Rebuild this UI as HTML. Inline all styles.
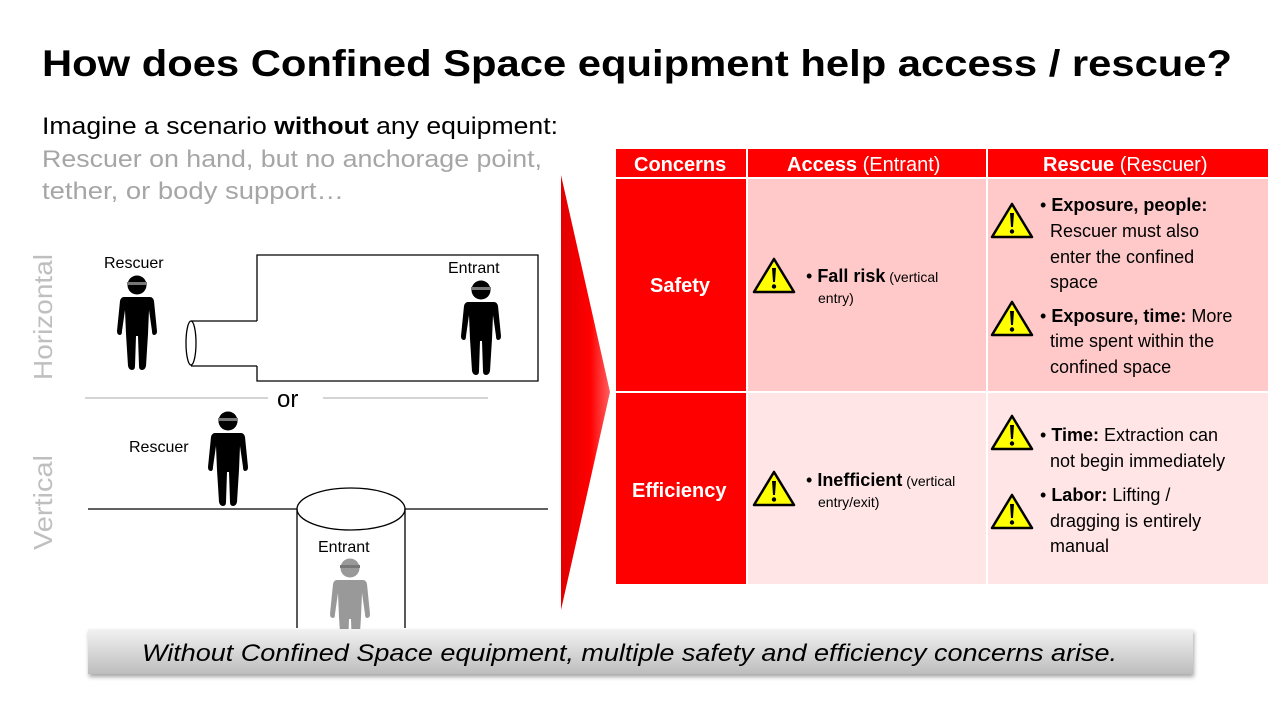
<!DOCTYPE html>
<html><head><meta charset="utf-8"><style>
html,body{margin:0;padding:0;background:#fff;width:1280px;height:720px;overflow:hidden}
svg{display:block;font-family:"Liberation Sans",sans-serif}
</style></head><body>
<svg width="1280" height="720" viewBox="0 0 1280 720" xmlns="http://www.w3.org/2000/svg">
<defs>
<linearGradient id="arr" x1="0" x2="1" y1="0" y2="0"><stop offset="0" stop-color="#e00000"/><stop offset="0.6" stop-color="#ff0000"/><stop offset="1" stop-color="#ff6060"/></linearGradient>
<linearGradient id="bar" x1="0" x2="0" y1="0" y2="1"><stop offset="0" stop-color="#f2f2f2"/><stop offset="1" stop-color="#bdbdbd"/></linearGradient>
<filter id="sh" x="-5%" y="-30%" width="110%" height="170%"><feDropShadow dx="1" dy="3" stdDeviation="2" flood-color="#000" flood-opacity="0.35"/></filter>
<g id="person">
<circle cx="20" cy="11" r="9.5"/>
<rect x="10" y="8" width="20" height="3" fill="#777"/>
<path d="M7 23 L33 23 Q36 23 37 27 L40 57 Q40 61 37 61 Q35 61 35 57 L32 36 L31 60 L29 92 Q28 96 25 96 Q22 96 22 92 L21 62 L19 62 L18 92 Q18 96 15 96 Q12 96 11 92 L9 60 L8 36 L5 57 Q5 61 3 61 Q0 61 0 57 L3 27 Q4 23 7 23 Z"/>
</g>
<g id="warn">
<path d="M21 2 L41 35 L1 35 Z" fill="#ffff00" stroke="#000" stroke-width="2.5" stroke-linejoin="round"/>
<path d="M19 11 L23 11 L22 25 L20 25 Z" fill="#000"/>
<circle cx="21" cy="29.5" r="2.2" fill="#000"/>
</g>
</defs>

<text x="42" y="76" font-size="37" font-weight="bold" textLength="1190" lengthAdjust="spacingAndGlyphs">How does Confined Space equipment help access / rescue?</text>
<text x="42" y="134" font-size="24" textLength="516" lengthAdjust="spacingAndGlyphs">Imagine a scenario <tspan font-weight="bold">without</tspan> any equipment:</text>
<text x="42" y="167" font-size="24" fill="#a6a6a6" textLength="500" lengthAdjust="spacingAndGlyphs">Rescuer on hand, but no anchorage point,</text>
<text x="42" y="199" font-size="24" fill="#a6a6a6" textLength="302" lengthAdjust="spacingAndGlyphs">tether, or body support…</text>

<text transform="translate(52,380) rotate(-90)" font-size="26" fill="#bfbfbf" textLength="126" lengthAdjust="spacingAndGlyphs">Horizontal</text>
<text transform="translate(52,550) rotate(-90)" font-size="26" fill="#bfbfbf" textLength="95" lengthAdjust="spacingAndGlyphs">Vertical</text>

<g fill="none" stroke="#000" stroke-width="1.3">
<path d="M257 321 L257 255 L538 255 L538 381 L257 381 L257 366"/>
<path d="M191 321 L257 321 M191 366 L257 366"/>
<ellipse cx="191" cy="343" rx="5" ry="22"/>
</g>
<text x="104" y="268" font-size="16">Rescuer</text>
<text x="448" y="273" font-size="16">Entrant</text>
<use href="#person" x="117" y="274"/>
<use href="#person" x="461" y="279"/>

<line x1="85" y1="398" x2="268" y2="398" stroke="#aaa" stroke-width="1"/>
<line x1="323" y1="398" x2="488" y2="398" stroke="#aaa" stroke-width="1"/>
<text x="277" y="407" font-size="24">or</text>

<g fill="none" stroke="#000" stroke-width="1.3">
<path d="M88 509 L297 509 M405 509 L548 509"/>
<ellipse cx="351" cy="509" rx="54" ry="21" fill="#fff"/>
<path d="M297 509 L297 628 M405 509 L405 628"/>
</g>
<text x="129" y="452" font-size="16">Rescuer</text>
<text x="318" y="552" font-size="16">Entrant</text>
<use href="#person" x="208" y="410"/>
<use href="#person" x="330" y="557" fill="#999"/>

<path d="M561 175 L610 392 L561 610 Z" fill="url(#arr)"/>

<rect x="616" y="149" width="652" height="28" fill="#ff0000"/>
<rect x="746" y="149" width="2" height="28" fill="#fff"/>
<rect x="986" y="149" width="2" height="28" fill="#fff"/>
<rect x="616" y="179" width="130" height="212" fill="#ff0000"/>
<rect x="616" y="393" width="130" height="191" fill="#ff0000"/>
<rect x="748" y="179" width="238" height="212" fill="#ffc9c9"/>
<rect x="988" y="179" width="280" height="212" fill="#ffc9c9"/>
<rect x="748" y="393" width="238" height="191" fill="#ffe5e5"/>
<rect x="988" y="393" width="280" height="191" fill="#ffe5e5"/>
<g fill="#fff" font-size="20">
<text x="634" y="171" font-weight="bold">Concerns</text>
<text x="787" y="171"><tspan font-weight="bold">Access</tspan> (Entrant)</text>
<text x="1043" y="171"><tspan font-weight="bold">Rescue</tspan> (Rescuer)</text>
<text x="650" y="292" font-weight="bold">Safety</text>
<text x="632" y="497" font-weight="bold">Efficiency</text>
</g>

<use href="#warn" x="753" y="257"/>
<use href="#warn" x="753" y="470"/>
<use href="#warn" x="991" y="202"/>
<use href="#warn" x="991" y="300"/>
<use href="#warn" x="991" y="414"/>
<use href="#warn" x="991" y="493"/>

<g font-size="18" fill="#000">
<text x="806" y="282">• <tspan font-weight="bold">Fall risk</tspan><tspan font-size="14"> (vertical</tspan></text>
<text x="818" y="303" font-size="14">entry)</text>
<text x="806" y="486">• <tspan font-weight="bold">Inefficient</tspan><tspan font-size="14"> (vertical</tspan></text>
<text x="818" y="507" font-size="14">entry/exit)</text>

<text x="1040" y="211">• <tspan font-weight="bold">Exposure, people:</tspan></text>
<text x="1050" y="237">Rescuer must also</text>
<text x="1050" y="263">enter the confined</text>
<text x="1050" y="288">space</text>
<text x="1040" y="322">• <tspan font-weight="bold">Exposure, time:</tspan> More</text>
<text x="1050" y="347">time spent within the</text>
<text x="1050" y="373">confined space</text>

<text x="1040" y="441">• <tspan font-weight="bold">Time:</tspan> Extraction can</text>
<text x="1050" y="467">not begin immediately</text>
<text x="1040" y="501">• <tspan font-weight="bold">Labor:</tspan> Lifting /</text>
<text x="1050" y="527">dragging is entirely</text>
<text x="1050" y="552">manual</text>
</g>

<rect x="88" y="629" width="1105" height="45" fill="url(#bar)" filter="url(#sh)"/>
<text x="142" y="661" font-size="24" font-style="italic" textLength="975" lengthAdjust="spacingAndGlyphs">Without Confined Space equipment, multiple safety and efficiency concerns arise.</text>
</svg>
</body></html>
